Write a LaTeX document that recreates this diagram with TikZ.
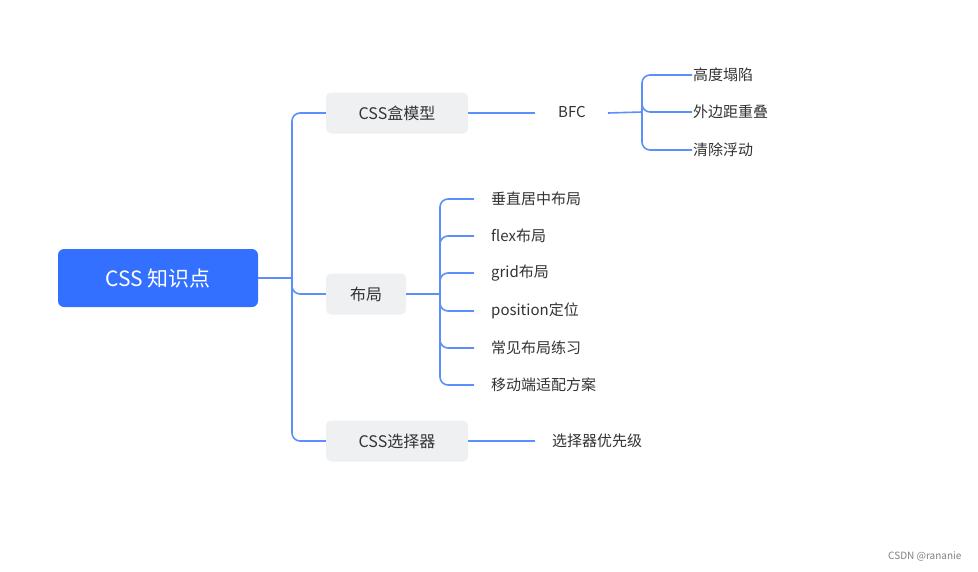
\documentclass[tikz,border=0pt]{standalone}
\usepackage{fontspec}
\setmainfont{Noto Sans CJK SC}
\begin{document}
\begin{tikzpicture}[x=1pt,y=-1pt,
 ln/.style={draw=lblue,line width=1.6pt,rounded corners=8pt},
 l1/.style={fill=boxg,rounded corners=5pt,text=txt,font=\fontsize{16}{18}\selectfont,inner sep=0pt,minimum height=41pt},
 lf/.style={text=txt,font=\fontsize{15}{17}\selectfont,inner sep=1pt,anchor=west}]
\definecolor{lblue}{HTML}{5B8FF9}
\definecolor{boxg}{HTML}{EFF0F2}
\definecolor{txt}{HTML}{333333}
\definecolor{rootb}{HTML}{3370FF}
\useasboundingbox (0,0) rectangle (978,571);
\fill[white] (0,0) rectangle (978,571);
\node[fill=rootb,rounded corners=6pt,minimum width=200pt,minimum height=58pt,text=white,font=\fontsize{21}{24}\selectfont,drop shadow/.style={}] (root) at (158,278) {CSS 知识点};
\node[l1,minimum width=142pt] (box) at (397,113) {CSS盒模型};
\node[l1,minimum width=80pt] (lay) at (366,294) {布局};
\node[l1,minimum width=142pt] (sel) at (397,441) {CSS选择器};
\coordinate (t) at (292,278);
\draw[ln] (root.east) -- (t);
\draw[ln] (box.west) -| (t) |- (sel.west);
\draw[ln] (t) |- (lay.west);
\node[lf,anchor=center] (bfc) at (572,112) {BFC};
\draw[ln] (box.east) -- (535,113);
\coordinate (b) at (642,112);
\draw[ln] (608,113) -- (b);
\foreach \n/\y/\s in {a/75/高度塌陷,b/112/外边距重叠,c/150/清除浮动}{
 \node[lf] (bf\n) at (692,\y) {\s};
 \draw[ln] (b) |- (bf\n.west);
}
\coordinate (l) at (440,294);
\draw[ln] (lay.east) -- (l);
\foreach \n/\y/\s in {a/199/垂直居中布局,b/236/flex布局,c/273/grid布局,d/311/position定位,e/348/常见布局练习,f/385/移动端适配方案}{
 \node[lf] (ly\n) at (490,\y) {\s};
 \draw[ln] (l) |- ([xshift=-16pt]ly\n.west);
}
\node[lf] (pri) at (551,441) {选择器优先级};
\draw[ln] (sel.east) -- (535,441);
\node[text=gray,font=\fontsize{10}{12}\selectfont,anchor=east] (wm) at (965,556) {CSDN @rananie};
\end{tikzpicture}
\end{document}
